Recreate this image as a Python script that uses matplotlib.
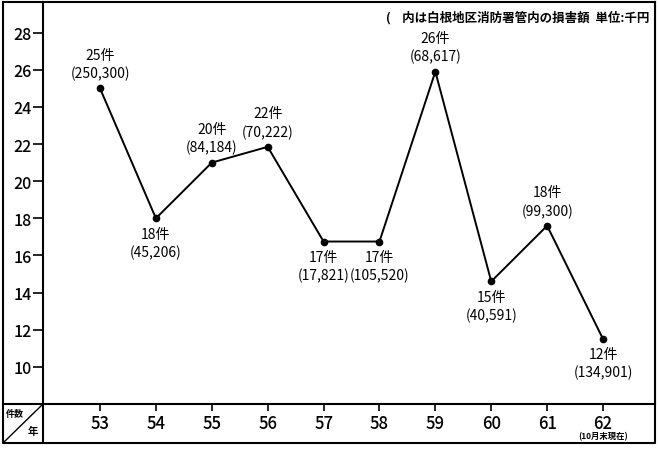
import numpy as np
import matplotlib
matplotlib.use('Agg')
import matplotlib.pyplot as plt

plt.rcParams['font.family'] = ['Noto Sans CJK JP', 'DejaVu Sans']

# data
years = [53, 54, 55, 56, 57, 58, 59, 60, 61, 62]
counts = [25.0, 18.0, 21.0, 21.85, 16.75, 16.75, 25.9, 14.6, 17.6, 11.5]
count_labels = ['25件', '18件', '20件', '22件', '17件', '17件', '26件', '15件', '18件', '12件']
damage_labels = ['(250,300)', '(45,206)', '(84,184)', '(70,222)', '(17,821)',
                 '(105,520)', '(68,617)', '(40,591)', '(99,300)', '(134,901)']
label_side = ['up', 'down', 'up', 'up', 'down', 'down', 'up', 'down', 'up', 'down']
yticks = [10, 12, 14, 16, 18, 20, 22, 24, 26, 28]

W, H = 659, 456
fig = plt.figure(figsize=(W/100, H/100), dpi=100)

# pixel layout of the boxed chart
L, R, T, B, XB = 43, 655, 3, 405, 444
ax = fig.add_axes([L/W, 1-B/H, (R-L)/W, (B-T)/H])
ax.plot(years, counts, color='black', lw=1.4, marker='o', ms=4.5, zorder=3)
ax.set_xlim(51.98, 62.93)
ax.set_ylim(8.0, 29.65)
ax.set_yticks(yticks)
ax.set_xticks(years)
ax.set_xticklabels([str(y) for y in years])
ax.tick_params(axis='y', direction='out', length=7, width=1.2, labelsize=11.5, pad=1)
ax.tick_params(axis='x', direction='out', length=5, width=1.2, labelsize=12, pad=2)
for lab in ax.get_xticklabels() + ax.get_yticklabels():
    lab.set_fontweight('medium')
for s in ax.spines.values():
    s.set_linewidth(1.5)

for x, y, c, d, side in zip(years, counts, count_labels, damage_labels, label_side):
    if side == 'up':
        ax.annotate(c, (x, y), xytext=(0, 24), textcoords='offset points',
                    ha='center', va='center', fontsize=10)
        ax.annotate(d, (x, y), xytext=(0, 11), textcoords='offset points',
                    ha='center', va='center', fontsize=10)
    else:
        ax.annotate(c, (x, y), xytext=(0, -11), textcoords='offset points',
                    ha='center', va='center', fontsize=10)
        ax.annotate(d, (x, y), xytext=(0, -24), textcoords='offset points',
                    ha='center', va='center', fontsize=10)

ax.text(0.99, 0.963, '(    内は白根地区消防署管内の損害額  単位:千円', transform=ax.transAxes,
        ha='right', va='center', fontsize=9, fontweight='bold')

# outer box, bottom band and corner cell
frame = fig.add_axes([0, 0, 1, 1], zorder=-1)
frame.set_xlim(0, W)
frame.set_ylim(H, 0)
frame.axis('off')
frame.plot([3, 3, R, R], [T, XB, XB, T], color='black', lw=1.5)
frame.plot([3, L], [T, T], color='black', lw=1.5)
frame.plot([L, L], [B, XB], color='black', lw=1.5)
frame.plot([3, L], [B, B], color='black', lw=1.5)
frame.plot([3, L], [XB, B], color='black', lw=1.0)
frame.text(15, 414, '件数', fontsize=6.5, ha='center', va='center', fontweight='bold')
frame.text(33, 432, '年', fontsize=7.5, ha='center', va='center', fontweight='bold')
frame.text(603, 437, '(10月末現在)', fontsize=6, ha='center', va='center', fontweight='bold')

fig.savefig('out.png', dpi=100)
